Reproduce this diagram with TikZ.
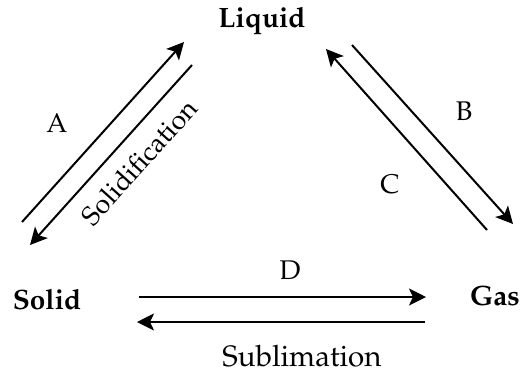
\documentclass[tikz,border=0pt]{standalone}
\usepackage[T1]{fontenc}
\usepackage{mathpazo}
\usepackage{tikz}
\usetikzlibrary{arrows.meta,positioning}

\begin{document}
\begin{tikzpicture}[x=1pt, y=-1pt,
  phase/.style={font=\fontsize{28}{32}\selectfont\bfseries, inner sep=0pt},
  arr/.style={-{Stealth[length=17pt, width=17pt, inset=4pt]}, line width=2pt},
  lbl/.style={font=\fontsize{27}{31}\selectfont, inner sep=0pt}
]
  \useasboundingbox (0,0) rectangle (521,376);
  \node[phase] (L) at (262,21) {Liquid};
  \node[phase] (S) at (47,300) {Solid};
  \node[phase] (G) at (495,296) {Gas};
  % ends of the paired arrows
  \coordinate (SL1) at (22,222);  \coordinate (SL2) at (184,42);
  \coordinate (LS1) at (192,65);  \coordinate (LS2) at (30,245);
  \coordinate (LG1) at (352,45);  \coordinate (LG2) at (513,224);
  \coordinate (GL1) at (487,230); \coordinate (GL2) at (326,49);
  \coordinate (SG1) at (139,297); \coordinate (SG2) at (426,297);
  \coordinate (GS1) at (425,322); \coordinate (GS2) at (137,322);
  \draw[arr] (SL1) -- (SL2);
  \draw[arr] (LS1) -- (LS2);
  \draw[arr] (LG1) -- (LG2);
  \draw[arr] (GL1) -- (GL2);
  \draw[arr] (SG1) -- (SG2);
  \draw[arr] (GS1) -- (GS2);
  \node[lbl] (A) at (57,123) {A};
  \node[lbl] (B) at (464,111) {B};
  \node[lbl] (C) at (390,184) {C};
  \node[lbl] (D) at (290,270) {D};
  \node[lbl, rotate=48] (sol) at (139,162) {Solidification};
  \node[lbl, font=\fontsize{29.5}{33}\selectfont] (sub) at (302,356) {Sublimation};
\end{tikzpicture}
\end{document}
